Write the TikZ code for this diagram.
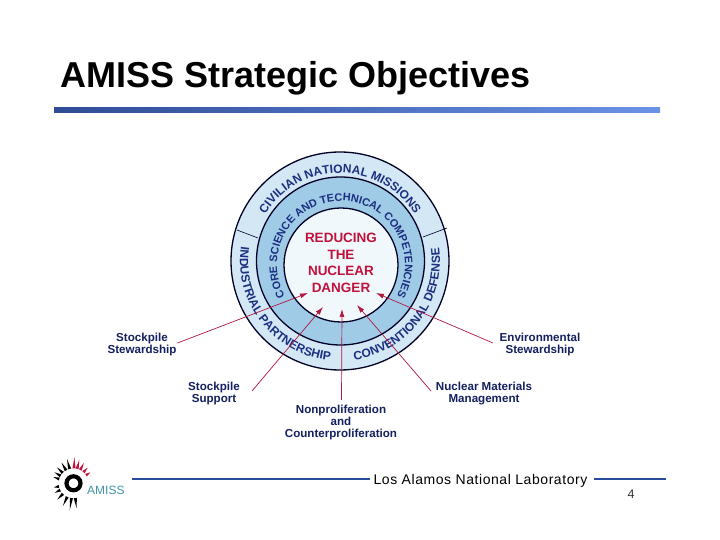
\documentclass[tikz,border=0pt]{standalone}
\usepackage{fontspec}
\setmainfont{Liberation Sans}
\usetikzlibrary{decorations.text,arrows.meta}
\definecolor{navy}{HTML}{14205F}
\definecolor{ringtxt}{HTML}{1C2F80}
\definecolor{crim}{HTML}{C0123C}
\definecolor{arrowred}{HTML}{B0183F}
\definecolor{outerfill}{HTML}{D3E7F5}
\definecolor{midfill}{HTML}{9FCBE7}
\definecolor{innerfill}{HTML}{F1F8FC}
\definecolor{ruleA}{HTML}{2F4C96}
\definecolor{ruleB}{HTML}{6A92E6}
\definecolor{footline}{HTML}{2A4A9A}
\definecolor{teal}{HTML}{3F94A8}
\tikzset{
  ringline/.style={draw=black!85!blue,line width=1.3pt},
  divider/.style={draw=black!85!blue,line width=0.6pt},
  lbl/.style={font=\fontsize{11.6}{12}\selectfont\bfseries,text=navy,align=center,inner sep=0pt},
  ptr/.style={draw=arrowred,line width=0.7pt,-{Latex[length=8pt,width=5pt]}},
  core/.style={font=\fontsize{13.5}{17}\selectfont\bfseries,text=crim,align=center,inner sep=0pt},
  footrule/.style={draw=footline,line width=1.2pt},
}
\newcommand{\ringtext}[6]{%
  \path[decorate,decoration={text along path,text align=center,
     text={|\fontsize{#5}{#5}\selectfont\bfseries\color{ringtxt}|#1}}]
     ([shift={(#2:#4pt)}]#6) arc[start angle=#2,end angle=#3,radius=#4pt];}
\begin{document}
\begin{tikzpicture}[x=1pt,y=1pt]
\useasboundingbox (0,0) rectangle (720,540);
\fill[white] (0,0) rectangle (720,540);
% title
\node[anchor=base west,inner sep=0pt,font=\fontsize{36}{36}\selectfont\bfseries,text=black] (title) at (60,452) {AMISS Strategic Objectives};
\shade[left color=ruleA,right color=ruleB] (54,427.5) rectangle (660,432.5);
% rings
\coordinate (ctr) at (340,279);
\coordinate (ctri) at (341,275);
\filldraw[ringline,fill=outerfill] (ctr) circle[radius=109pt];
\filldraw[ringline,fill=midfill] (340.5,279) circle[radius=84pt];
\filldraw[ringline,fill=innerfill] (ctri) circle[radius=57pt];
\draw[divider] (237,310) -- (258,302);
\draw[divider] (423,303) -- (447,312);
% ring texts
\ringtext{CIVILIAN NATIONAL MISSIONS}{160}{20}{88}{12}{ctr}
\ringtext{CORE SCIENCE AND TECHNICAL COMPETENCIES}{220}{-40}{64}{10.9}{ctri}
\ringtext{INDUSTRIAL PARTNERSHIP}{161}{275}{100}{12}{ctr}
\ringtext{CONVENTIONAL DEFENSE}{270}{376}{100}{12}{ctr}
% core
\node[core] (danger) at (341,277) {REDUCING\\[-.5pt]THE\\[-.5pt]NUCLEAR\\[-.5pt]DANGER};
% labels
\node[lbl] (stew) at (142,195) {Stockpile\\Stewardship};
\node[lbl] (supp) at (214,146) {Stockpile\\Support};
\node[lbl] (nonp) at (341,117) {Nonproliferation\\and\\Counterproliferation};
\node[lbl] (nucl) at (484,146.5) {Nuclear Materials\\Management};
\node[lbl] (envi) at (540,195) {Environmental\\Stewardship};
% arrows
\coordinate (t1) at (308,247);
\coordinate (t2) at (323,233);
\coordinate (t3) at (342,231);
\coordinate (t4) at (357,235);
\coordinate (t5) at (376,247);
\draw[ptr] (177.5,197) -- (t1);
\draw[ptr] (252,149) -- (t2);
\draw[ptr] (341.5,140) -- (t3);
\draw[ptr] (431,149) -- (t4);
\draw[ptr] (493,197) -- (t5);
% footer
\draw[footrule] (132,61) -- (370,61);
\draw[footrule] (594,61) -- (666,61);
\node[anchor=base,inner sep=0pt,font=\fontsize{14}{14}\selectfont\addfontfeatures{LetterSpace=4},text=black] (lab) at (480.5,55.5) {Los Alamos National Laboratory};
\node[anchor=base,inner sep=0pt,font=\fontsize{12.5}{13}\selectfont,text=black!80] (page) at (631,41) {4};
% logo
\coordinate (logo) at (73.5,56.7);
\draw[black,line width=4.2pt] (logo) circle[radius=7pt];
\foreach \a/\l in {88/11,76/9,63/8,48/6,33/5}{
  \fill[crim] ([shift={(\a+6:15pt)}]logo) -- ([shift={(\a:15pt+\l pt)}]logo) -- ([shift={(\a-6:15pt)}]logo) -- cycle;}
\foreach \a/\l in {105/10,120/9,136/8,150/7,163/6,192/5,207/6,225/8,245/10,262/12,277/10}{
  \fill[black] ([shift={(\a+6:15pt)}]logo) -- ([shift={(\a:15pt+\l pt)}]logo) -- ([shift={(\a-6:15pt)}]logo) -- cycle;}
\node[anchor=base west,inner sep=0pt,font=\fontsize{12}{12}\selectfont,text=teal] (amiss) at (87,45.5) {AMISS};
\end{tikzpicture}
\end{document}
